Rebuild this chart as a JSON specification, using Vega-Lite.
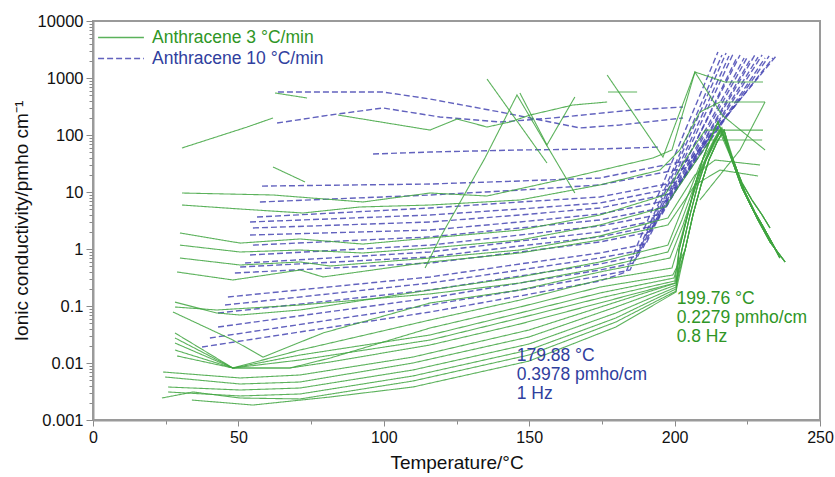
{
  "$schema": "https://vega.github.io/schema/vega-lite/v6.json",
  "width": 727,
  "height": 399,
  "autosize": {"type": "none"},
  "padding": {"left": 93, "top": 21, "right": 15, "bottom": 57},
  "background": "white",
  "config": {
    "font": "Liberation Sans",
    "view": {"stroke": "#9a9a9a", "strokeWidth": 2},
    "axis": {"grid": false, "domainColor": "#9a9a9a", "domainWidth": 2, "tickColor": "#8a8a8a", "labelColor": "#111", "titleColor": "#111", "labelFont": "Liberation Sans", "titleFont": "Liberation Sans", "titleFontWeight": "normal", "labelFlush": false, "labelOverlap": false}
  },
  "datasets": {
    "pts": [
      {"s":"B1","r":"10","t":37.5,"v":0.0191},{"s":"B1","r":"10","t":115.9,"v":0.0785},{"s":"B1","r":"10","t":146.8,"v":0.15},{"s":"B1","r":"10","t":174.3,"v":0.275},{"s":"B1","r":"10","t":183.3,"v":0.395},{"s":"B1","r":"10","t":214.9,"v":2858},
      {"s":"B2","r":"10","t":40.2,"v":0.0275},{"s":"B2","r":"10","t":115.9,"v":0.104},{"s":"B2","r":"10","t":146.8,"v":0.191},{"s":"B2","r":"10","t":174.3,"v":0.336},{"s":"B2","r":"10","t":184.7,"v":0.428},{"s":"B2","r":"10","t":216.3,"v":2535},
      {"s":"B3","r":"10","t":43.0,"v":0.0428},{"s":"B3","r":"10","t":115.9,"v":0.138},{"s":"B3","r":"10","t":146.8,"v":0.253},{"s":"B3","r":"10","t":174.3,"v":0.428},{"s":"B3","r":"10","t":186.0,"v":0.568},{"s":"B3","r":"10","t":217.7,"v":2745},
      {"s":"B4","r":"10","t":43.0,"v":0.0754},{"s":"B4","r":"10","t":115.9,"v":0.191},{"s":"B4","r":"10","t":146.8,"v":0.336},{"s":"B4","r":"10","t":174.3,"v":0.546},{"s":"B4","r":"10","t":187.4,"v":0.754},{"s":"B4","r":"10","t":218.7,"v":2432},
      {"s":"B5","r":"10","t":45.4,"v":0.104},{"s":"B5","r":"10","t":115.9,"v":0.253},{"s":"B5","r":"10","t":146.8,"v":0.428},{"s":"B5","r":"10","t":174.3,"v":0.695},{"s":"B5","r":"10","t":188.8,"v":0.96},{"s":"B5","r":"10","t":220.1,"v":2637},
      {"s":"B6","r":"10","t":46.4,"v":0.144},{"s":"B6","r":"10","t":115.9,"v":0.323},{"s":"B6","r":"10","t":146.8,"v":0.546},{"s":"B6","r":"10","t":174.3,"v":0.851},{"s":"B6","r":"10","t":190.1,"v":1.22},{"s":"B6","r":"10","t":221.5,"v":2335},
      {"s":"B7","r":"10","t":48.8,"v":0.379},{"s":"B7","r":"10","t":115.9,"v":0.568},{"s":"B7","r":"10","t":146.8,"v":0.886},{"s":"B7","r":"10","t":174.3,"v":1.33},{"s":"B7","r":"10","t":191.5,"v":1.99},{"s":"B7","r":"10","t":222.5,"v":2535},
      {"s":"B8","r":"10","t":50.6,"v":0.483},{"s":"B8","r":"10","t":115.9,"v":0.724},{"s":"B8","r":"10","t":146.8,"v":1.13},{"s":"B8","r":"10","t":174.3,"v":1.63},{"s":"B8","r":"10","t":192.9,"v":2.53},{"s":"B8","r":"10","t":223.9,"v":2244},
      {"s":"B9","r":"10","t":52.3,"v":0.568},{"s":"B9","r":"10","t":115.9,"v":0.886},{"s":"B9","r":"10","t":146.8,"v":1.38},{"s":"B9","r":"10","t":174.3,"v":1.99},{"s":"B9","r":"10","t":194.3,"v":3.23},{"s":"B9","r":"10","t":225.2,"v":2432},
      {"s":"B10","r":"10","t":54.0,"v":0.785},{"s":"B10","r":"10","t":115.9,"v":1.17},{"s":"B10","r":"10","t":146.8,"v":1.76},{"s":"B10","r":"10","t":174.3,"v":2.53},{"s":"B10","r":"10","t":195.7,"v":4.11},{"s":"B10","r":"10","t":226.3,"v":2244},
      {"s":"B11","r":"10","t":55.0,"v":1.17},{"s":"B11","r":"10","t":115.9,"v":1.63},{"s":"B11","r":"10","t":146.8,"v":2.34},{"s":"B11","r":"10","t":174.3,"v":3.23},{"s":"B11","r":"10","t":197.1,"v":5.46},{"s":"B11","r":"10","t":227.6,"v":2535},
      {"s":"B12","r":"10","t":54.0,"v":1.76},{"s":"B12","r":"10","t":115.9,"v":2.15},{"s":"B12","r":"10","t":146.8,"v":2.98},{"s":"B12","r":"10","t":174.3,"v":4.11},{"s":"B12","r":"10","t":198.4,"v":7.24},{"s":"B12","r":"10","t":228.7,"v":2335},
      {"s":"B13","r":"10","t":55.0,"v":2.34},{"s":"B13","r":"10","t":115.9,"v":2.98},{"s":"B13","r":"10","t":146.8,"v":3.95},{"s":"B13","r":"10","t":174.3,"v":5.24},{"s":"B13","r":"10","t":199.8,"v":9.6},{"s":"B13","r":"10","t":230.1,"v":2535},
      {"s":"B14","r":"10","t":54.0,"v":2.98},{"s":"B14","r":"10","t":115.9,"v":3.95},{"s":"B14","r":"10","t":146.8,"v":5.03},{"s":"B14","r":"10","t":174.3,"v":6.41},{"s":"B14","r":"10","t":201.2,"v":12.2},{"s":"B14","r":"10","t":231.1,"v":2244},
      {"s":"B15","r":"10","t":56.4,"v":3.64},{"s":"B15","r":"10","t":115.9,"v":5.24},{"s":"B15","r":"10","t":146.8,"v":6.68},{"s":"B15","r":"10","t":174.3,"v":8.17},{"s":"B15","r":"10","t":202.5,"v":15.6},{"s":"B15","r":"10","t":232.5,"v":2432},
      {"s":"B16","r":"10","t":57.4,"v":6.68},{"s":"B16","r":"10","t":115.9,"v":8.86},{"s":"B16","r":"10","t":146.8,"v":10.8},{"s":"B16","r":"10","t":174.3,"v":13.3},{"s":"B16","r":"10","t":203.9,"v":26.4},{"s":"B16","r":"10","t":233.8,"v":2244},
      {"s":"B17","r":"10","t":58.1,"v":12.7},{"s":"B17","r":"10","t":115.9,"v":13.8},{"s":"B17","r":"10","t":146.8,"v":15.6},{"s":"B17","r":"10","t":174.3,"v":17.6},{"s":"B17","r":"10","t":205.3,"v":36.4},{"s":"B17","r":"10","t":235.2,"v":2535},
      {"s":"B18","r":"10","t":96.3,"v":46.4},{"s":"B18","r":"10","t":115.9,"v":50.3},{"s":"B18","r":"10","t":146.8,"v":54.6},{"s":"B18","r":"10","t":174.3,"v":56.8},{"s":"B18","r":"10","t":195.0,"v":61.5},
      {"s":"B19","r":"10","t":63.3,"v":162},{"s":"B19","r":"10","t":81.5,"v":224},{"s":"B19","r":"10","t":99.7,"v":298},{"s":"B19","r":"10","t":119.3,"v":207},{"s":"B19","r":"10","t":140.0,"v":169},{"s":"B19","r":"10","t":158.2,"v":199},{"s":"B19","r":"10","t":185.7,"v":275},{"s":"B19","r":"10","t":202.9,"v":310},
      {"s":"B20","r":"10","t":63.6,"v":568},{"s":"B20","r":"10","t":99.7,"v":568},{"s":"B20","r":"10","t":115.9,"v":428},{"s":"B20","r":"10","t":140.0,"v":253},{"s":"B20","r":"10","t":167.5,"v":133},{"s":"B20","r":"10","t":181.2,"v":150},{"s":"B20","r":"10","t":202.9,"v":199},

      {"s":"GL1","r":"3","t":24.1,"v":0.00695},{"s":"GL1","r":"3","t":50.6,"v":0.00546},{"s":"GL1","r":"3","t":71.2,"v":0.00616},{"s":"GL1","r":"3","t":110.0,"v":0.0127},{"s":"GL1","r":"3","t":149.9,"v":0.0379},{"s":"GL1","r":"3","t":179.8,"v":0.117},{"s":"GL1","r":"3","t":200.5,"v":0.253},
      {"s":"GL1","r":"3","t":202.5,"v":0.96},{"s":"GL1","r":"3","t":205.3,"v":3.95},{"s":"GL1","r":"3","t":208.0,"v":13.3},{"s":"GL1","r":"3","t":210.8,"v":36.4},{"s":"GL1","r":"3","t":213.6,"v":75.4},{"s":"GL1","r":"3","t":216.0,"v":122},
      {"s":"GL1","r":"3","t":219.7,"v":36.4},{"s":"GL1","r":"3","t":223.2,"v":11.7},{"s":"GL1","r":"3","t":226.6,"v":5.24},{"s":"GL1","r":"3","t":230.1,"v":2.64},{"s":"GL1","r":"3","t":233.5,"v":1.27},{"s":"GL1","r":"3","t":236.2,"v":0.695},

      {"s":"GL2","r":"3","t":24.8,"v":0.00568},{"s":"GL2","r":"3","t":50.6,"v":0.00428},{"s":"GL2","r":"3","t":71.2,"v":0.00464},{"s":"GL2","r":"3","t":110.0,"v":0.01},{"s":"GL2","r":"3","t":149.9,"v":0.0286},{"s":"GL2","r":"3","t":179.8,"v":0.096},{"s":"GL2","r":"3","t":200.5,"v":0.234},
      {"s":"GL2","r":"3","t":203.6,"v":0.96},{"s":"GL2","r":"3","t":206.3,"v":3.95},{"s":"GL2","r":"3","t":209.1,"v":13.3},{"s":"GL2","r":"3","t":211.8,"v":36.4},{"s":"GL2","r":"3","t":214.6,"v":75.4},{"s":"GL2","r":"3","t":217.0,"v":122},
      {"s":"GL2","r":"3","t":220.8,"v":29.8},{"s":"GL2","r":"3","t":224.2,"v":9.6},{"s":"GL2","r":"3","t":228.3,"v":3.5},{"s":"GL2","r":"3","t":232.8,"v":1.33},{"s":"GL2","r":"3","t":238.0,"v":0.592},

      {"s":"GL3","r":"3","t":25.8,"v":0.00379},{"s":"GL3","r":"3","t":50.6,"v":0.00336},{"s":"GL3","r":"3","t":71.2,"v":0.00364},{"s":"GL3","r":"3","t":110.0,"v":0.00754},{"s":"GL3","r":"3","t":149.9,"v":0.0215},{"s":"GL3","r":"3","t":179.8,"v":0.0754},{"s":"GL3","r":"3","t":200.5,"v":0.215},
      {"s":"GL3","r":"3","t":201.5,"v":0.96},{"s":"GL3","r":"3","t":204.5,"v":3.95},{"s":"GL3","r":"3","t":207.0,"v":13.3},{"s":"GL3","r":"3","t":209.8,"v":39.5},{"s":"GL3","r":"3","t":212.5,"v":88.5},{"s":"GL3","r":"3","t":214.9,"v":169},
      {"s":"GL3","r":"3","t":219.7,"v":39.5},{"s":"GL3","r":"3","t":223.2,"v":14.4},{"s":"GL3","r":"3","t":226.6,"v":7.24},{"s":"GL3","r":"3","t":230.1,"v":3.95},{"s":"GL3","r":"3","t":232.8,"v":2.34},

      {"s":"GL4","r":"3","t":25.8,"v":0.0031},{"s":"GL4","r":"3","t":50.6,"v":0.00264},{"s":"GL4","r":"3","t":71.2,"v":0.00286},{"s":"GL4","r":"3","t":110.0,"v":0.00592},{"s":"GL4","r":"3","t":149.9,"v":0.0169},{"s":"GL4","r":"3","t":179.8,"v":0.0616},{"s":"GL4","r":"3","t":200.5,"v":0.199},
      {"s":"GL4","r":"3","t":202.5,"v":0.96},{"s":"GL4","r":"3","t":205.3,"v":3.95},{"s":"GL4","r":"3","t":208.0,"v":13.3},{"s":"GL4","r":"3","t":210.8,"v":36.4},{"s":"GL4","r":"3","t":213.6,"v":75.4},{"s":"GL4","r":"3","t":216.0,"v":122},
      {"s":"GL4","r":"3","t":220.1,"v":33.6},{"s":"GL4","r":"3","t":223.9,"v":10.8},{"s":"GL4","r":"3","t":227.6,"v":4.46},{"s":"GL4","r":"3","t":231.4,"v":1.99},{"s":"GL4","r":"3","t":234.9,"v":0.96},

      {"s":"GL5","r":"3","t":23.7,"v":0.00243},{"s":"GL5","r":"3","t":34.4,"v":0.0031},{"s":"GL5","r":"3","t":50.6,"v":0.00243},{"s":"GL5","r":"3","t":71.2,"v":0.00234},{"s":"GL5","r":"3","t":110.0,"v":0.00483},{"s":"GL5","r":"3","t":149.9,"v":0.0138},{"s":"GL5","r":"3","t":179.8,"v":0.0524},{"s":"GL5","r":"3","t":200.5,"v":0.183},
      {"s":"GL5","r":"3","t":203.6,"v":0.96},{"s":"GL5","r":"3","t":206.3,"v":3.95},{"s":"GL5","r":"3","t":209.1,"v":13.3},{"s":"GL5","r":"3","t":211.8,"v":36.4},{"s":"GL5","r":"3","t":214.6,"v":75.4},{"s":"GL5","r":"3","t":217.0,"v":122},
      {"s":"GL5","r":"3","t":219.7,"v":36.4},{"s":"GL5","r":"3","t":223.2,"v":11.7},{"s":"GL5","r":"3","t":226.6,"v":5.24},{"s":"GL5","r":"3","t":230.1,"v":2.64},{"s":"GL5","r":"3","t":233.5,"v":1.27},{"s":"GL5","r":"3","t":236.2,"v":0.695},

      {"s":"GL6","r":"3","t":34.0,"v":0.00224},{"s":"GL6","r":"3","t":55.0,"v":0.00183},{"s":"GL6","r":"3","t":81.5,"v":0.00253},{"s":"GL6","r":"3","t":110.0,"v":0.00379},{"s":"GL6","r":"3","t":149.9,"v":0.0108},{"s":"GL6","r":"3","t":179.8,"v":0.0428},{"s":"GL6","r":"3","t":200.5,"v":0.176},
      {"s":"GL6","r":"3","t":201.5,"v":0.96},{"s":"GL6","r":"3","t":204.5,"v":3.95},{"s":"GL6","r":"3","t":207.0,"v":13.3},{"s":"GL6","r":"3","t":209.8,"v":39.5},{"s":"GL6","r":"3","t":212.5,"v":88.5},{"s":"GL6","r":"3","t":214.9,"v":169},
      {"s":"GL6","r":"3","t":220.8,"v":29.8},{"s":"GL6","r":"3","t":224.2,"v":9.6},{"s":"GL6","r":"3","t":228.3,"v":3.5},{"s":"GL6","r":"3","t":232.8,"v":1.33},{"s":"GL6","r":"3","t":238.0,"v":0.592},

      {"s":"GD1","r":"3","t":28.2,"v":0.0336},{"s":"GD1","r":"3","t":48.1,"v":0.00817},{"s":"GD1","r":"3","t":71.2,"v":0.0169},{"s":"GD1","r":"3","t":115.9,"v":0.0568},{"s":"GD1","r":"3","t":146.8,"v":0.127},{"s":"GD1","r":"3","t":174.3,"v":0.286},{"s":"GD1","r":"3","t":199.1,"v":0.464},
      {"s":"GD1","r":"3","t":202.5,"v":1.76},{"s":"GD1","r":"3","t":205.3,"v":5.91},{"s":"GD1","r":"3","t":208.0,"v":16.3},{"s":"GD1","r":"3","t":210.8,"v":39.5},{"s":"GD1","r":"3","t":213.6,"v":81.7},{"s":"GD1","r":"3","t":216.0,"v":133},
      {"s":"GD1","r":"3","t":219.7,"v":39.5},{"s":"GD1","r":"3","t":223.2,"v":14.4},{"s":"GD1","r":"3","t":226.6,"v":7.24},{"s":"GD1","r":"3","t":230.1,"v":3.95},{"s":"GD1","r":"3","t":232.8,"v":2.34},

      {"s":"GD2","r":"3","t":28.2,"v":0.0275},{"s":"GD2","r":"3","t":48.1,"v":0.00817},{"s":"GD2","r":"3","t":67.7,"v":0.00817},{"s":"GD2","r":"3","t":81.5,"v":0.0122},{"s":"GD2","r":"3","t":115.9,"v":0.0411},{"s":"GD2","r":"3","t":146.8,"v":0.096},{"s":"GD2","r":"3","t":174.3,"v":0.215},{"s":"GD2","r":"3","t":199.4,"v":0.35},
      {"s":"GD2","r":"3","t":203.6,"v":0.96},{"s":"GD2","r":"3","t":206.3,"v":3.95},{"s":"GD2","r":"3","t":209.1,"v":13.3},{"s":"GD2","r":"3","t":211.8,"v":36.4},{"s":"GD2","r":"3","t":214.6,"v":75.4},{"s":"GD2","r":"3","t":217.0,"v":122},
      {"s":"GD2","r":"3","t":219.7,"v":36.4},{"s":"GD2","r":"3","t":223.2,"v":11.7},{"s":"GD2","r":"3","t":226.6,"v":5.24},{"s":"GD2","r":"3","t":230.1,"v":2.64},{"s":"GD2","r":"3","t":233.5,"v":1.27},{"s":"GD2","r":"3","t":236.2,"v":0.695},

      {"s":"GD3","r":"3","t":28.2,"v":0.0224},{"s":"GD3","r":"3","t":48.1,"v":0.00817},{"s":"GD3","r":"3","t":71.2,"v":0.0138},{"s":"GD3","r":"3","t":115.9,"v":0.031},{"s":"GD3","r":"3","t":146.8,"v":0.0754},{"s":"GD3","r":"3","t":174.3,"v":0.169},{"s":"GD3","r":"3","t":199.8,"v":0.31},
      {"s":"GD3","r":"3","t":202.5,"v":0.96},{"s":"GD3","r":"3","t":205.3,"v":3.95},{"s":"GD3","r":"3","t":208.0,"v":13.3},{"s":"GD3","r":"3","t":210.8,"v":36.4},{"s":"GD3","r":"3","t":213.6,"v":75.4},{"s":"GD3","r":"3","t":216.0,"v":122},
      {"s":"GD3","r":"3","t":220.8,"v":29.8},{"s":"GD3","r":"3","t":224.2,"v":9.6},{"s":"GD3","r":"3","t":228.3,"v":3.5},{"s":"GD3","r":"3","t":232.8,"v":1.33},{"s":"GD3","r":"3","t":238.0,"v":0.592},

      {"s":"GD4","r":"3","t":28.2,"v":0.0169},{"s":"GD4","r":"3","t":48.1,"v":0.00817},{"s":"GD4","r":"3","t":71.2,"v":0.0113},{"s":"GD4","r":"3","t":115.9,"v":0.0253},{"s":"GD4","r":"3","t":146.8,"v":0.0616},{"s":"GD4","r":"3","t":174.3,"v":0.138},{"s":"GD4","r":"3","t":200.1,"v":0.275},
      {"s":"GD4","r":"3","t":201.5,"v":0.96},{"s":"GD4","r":"3","t":204.5,"v":3.95},{"s":"GD4","r":"3","t":207.0,"v":13.3},{"s":"GD4","r":"3","t":209.8,"v":39.5},{"s":"GD4","r":"3","t":212.5,"v":88.5},{"s":"GD4","r":"3","t":214.9,"v":169},
      {"s":"GD4","r":"3","t":220.1,"v":33.6},{"s":"GD4","r":"3","t":223.9,"v":10.8},{"s":"GD4","r":"3","t":227.6,"v":4.46},{"s":"GD4","r":"3","t":231.4,"v":1.99},{"s":"GD4","r":"3","t":234.9,"v":0.96},

      {"s":"GD5","r":"3","t":28.9,"v":0.0133},{"s":"GD5","r":"3","t":48.1,"v":0.00817},{"s":"GD5","r":"3","t":67.7,"v":0.00817},{"s":"GD5","r":"3","t":81.5,"v":0.0104},{"s":"GD5","r":"3","t":115.9,"v":0.0207},{"s":"GD5","r":"3","t":146.8,"v":0.0483},{"s":"GD5","r":"3","t":174.3,"v":0.113},{"s":"GD5","r":"3","t":200.1,"v":0.253},
      {"s":"GD5","r":"3","t":203.6,"v":0.96},{"s":"GD5","r":"3","t":206.3,"v":3.95},{"s":"GD5","r":"3","t":209.1,"v":13.3},{"s":"GD5","r":"3","t":211.8,"v":36.4},{"s":"GD5","r":"3","t":214.6,"v":75.4},{"s":"GD5","r":"3","t":217.0,"v":122},
      {"s":"GD5","r":"3","t":219.7,"v":39.5},{"s":"GD5","r":"3","t":223.2,"v":14.4},{"s":"GD5","r":"3","t":226.6,"v":7.24},{"s":"GD5","r":"3","t":230.1,"v":3.95},{"s":"GD5","r":"3","t":232.8,"v":2.34},

      {"s":"GM1","r":"3","t":28.2,"v":0.117},{"s":"GM1","r":"3","t":42.6,"v":0.0754},{"s":"GM1","r":"3","t":50.6,"v":0.0695},{"s":"GM1","r":"3","t":71.2,"v":0.0851},{"s":"GM1","r":"3","t":115.9,"v":0.191},{"s":"GM1","r":"3","t":146.8,"v":0.323},{"s":"GM1","r":"3","t":174.3,"v":0.592},{"s":"GM1","r":"3","t":197.7,"v":1.17},
      {"s":"GM1","r":"3","t":201.8,"v":3.95},{"s":"GM1","r":"3","t":205.3,"v":10.8},{"s":"GM1","r":"3","t":208.7,"v":29.8},{"s":"GM1","r":"3","t":212.2,"v":61.5},{"s":"GM1","r":"3","t":215.3,"v":122},
      {"s":"GM1","r":"3","t":219.7,"v":36.4},{"s":"GM1","r":"3","t":223.2,"v":11.7},{"s":"GM1","r":"3","t":226.6,"v":5.24},{"s":"GM1","r":"3","t":230.1,"v":2.64},{"s":"GM1","r":"3","t":233.5,"v":1.27},{"s":"GM1","r":"3","t":236.2,"v":0.695},

      {"s":"GM2","r":"3","t":28.2,"v":0.096},{"s":"GM2","r":"3","t":42.6,"v":0.0851},{"s":"GM2","r":"3","t":71.2,"v":0.104},{"s":"GM2","r":"3","t":115.9,"v":0.163},{"s":"GM2","r":"3","t":146.8,"v":0.253},{"s":"GM2","r":"3","t":174.3,"v":0.464},{"s":"GM2","r":"3","t":197.7,"v":0.886},
      {"s":"GM2","r":"3","t":202.5,"v":3.23},{"s":"GM2","r":"3","t":206.0,"v":10},{"s":"GM2","r":"3","t":209.4,"v":28.6},{"s":"GM2","r":"3","t":212.9,"v":64.1},{"s":"GM2","r":"3","t":216.0,"v":122},
      {"s":"GM2","r":"3","t":220.8,"v":29.8},{"s":"GM2","r":"3","t":224.2,"v":9.6},{"s":"GM2","r":"3","t":228.3,"v":3.5},{"s":"GM2","r":"3","t":232.8,"v":1.33},{"s":"GM2","r":"3","t":238.0,"v":0.592},

      {"s":"GM3","r":"3","t":27.5,"v":0.0785},{"s":"GM3","r":"3","t":48.1,"v":0.0253},{"s":"GM3","r":"3","t":58.5,"v":0.0127},{"s":"GM3","r":"3","t":79.1,"v":0.0336},{"s":"GM3","r":"3","t":115.9,"v":0.113},{"s":"GM3","r":"3","t":146.8,"v":0.191},{"s":"GM3","r":"3","t":174.3,"v":0.395},{"s":"GM3","r":"3","t":198.4,"v":0.695},
      {"s":"GM3","r":"3","t":202.9,"v":2.64},{"s":"GM3","r":"3","t":206.3,"v":8.86},{"s":"GM3","r":"3","t":209.4,"v":26.4},{"s":"GM3","r":"3","t":213.2,"v":61.5},{"s":"GM3","r":"3","t":216.3,"v":133},
      {"s":"GM3","r":"3","t":220.1,"v":33.6},{"s":"GM3","r":"3","t":223.9,"v":10.8},{"s":"GM3","r":"3","t":227.6,"v":4.46},{"s":"GM3","r":"3","t":231.4,"v":1.99},{"s":"GM3","r":"3","t":234.9,"v":0.96},

      {"s":"GU1","r":"3","t":30.6,"v":9.6},{"s":"GU1","r":"3","t":61.9,"v":8.86},{"s":"GU1","r":"3","t":92.8,"v":6.68},{"s":"GU1","r":"3","t":115.9,"v":9.6},{"s":"GU1","r":"3","t":135.5,"v":8.51},{"s":"GU1","r":"3","t":160.6,"v":16.3},{"s":"GU1","r":"3","t":192.6,"v":39.5},{"s":"GU1","r":"3","t":199.1,"v":54.6},{"s":"GU1","r":"3","t":207.0,"v":1274},{"s":"GU1","r":"3","t":217.3,"v":851},{"s":"GU1","r":"3","t":230.4,"v":851},
      {"s":"GU2","r":"3","t":30.6,"v":5.91},{"s":"GU2","r":"3","t":50.6,"v":5.03},{"s":"GU2","r":"3","t":72.2,"v":4.28},{"s":"GU2","r":"3","t":91.8,"v":5.46},{"s":"GU2","r":"3","t":115.9,"v":5.91},{"s":"GU2","r":"3","t":146.8,"v":7.24},{"s":"GU2","r":"3","t":174.3,"v":13.3},{"s":"GU2","r":"3","t":195.0,"v":24.3},{"s":"GU2","r":"3","t":201.8,"v":54.6},{"s":"GU2","r":"3","t":208.7,"v":253},{"s":"GU2","r":"3","t":215.6,"v":379},{"s":"GU2","r":"3","t":231.1,"v":379},
      {"s":"GU3","r":"3","t":29.9,"v":1.91},{"s":"GU3","r":"3","t":50.6,"v":1.27},{"s":"GU3","r":"3","t":71.2,"v":1.5},{"s":"GU3","r":"3","t":92.8,"v":1.22},{"s":"GU3","r":"3","t":115.9,"v":1.56},{"s":"GU3","r":"3","t":146.8,"v":2.15},{"s":"GU3","r":"3","t":174.3,"v":3.95},{"s":"GU3","r":"3","t":196.7,"v":8.86},{"s":"GU3","r":"3","t":203.6,"v":36.4},{"s":"GU3","r":"3","t":210.5,"v":122},{"s":"GU3","r":"3","t":218.0,"v":122},{"s":"GU3","r":"3","t":230.4,"v":122},
      {"s":"GU4","r":"3","t":29.9,"v":1.17},{"s":"GU4","r":"3","t":50.6,"v":0.886},{"s":"GU4","r":"3","t":71.2,"v":0.96},{"s":"GU4","r":"3","t":92.8,"v":0.851},{"s":"GU4","r":"3","t":115.9,"v":1.04},{"s":"GU4","r":"3","t":146.8,"v":1.44},{"s":"GU4","r":"3","t":174.3,"v":2.64},{"s":"GU4","r":"3","t":196.7,"v":5.46},{"s":"GU4","r":"3","t":205.3,"v":24.3},{"s":"GU4","r":"3","t":212.2,"v":81.7},{"s":"GU4","r":"3","t":218.0,"v":81.7},{"s":"GU4","r":"3","t":230.1,"v":81.7},
      {"s":"GU5","r":"3","t":29.9,"v":0.695},{"s":"GU5","r":"3","t":50.6,"v":0.524},{"s":"GU5","r":"3","t":71.2,"v":0.592},{"s":"GU5","r":"3","t":81.5,"v":0.503},{"s":"GU5","r":"3","t":115.9,"v":0.695},{"s":"GU5","r":"3","t":146.8,"v":0.96},{"s":"GU5","r":"3","t":174.3,"v":1.69},{"s":"GU5","r":"3","t":197.7,"v":3.5},{"s":"GU5","r":"3","t":207.0,"v":19.9},{"s":"GU5","r":"3","t":213.9,"v":36.4},{"s":"GU5","r":"3","t":229.4,"v":29.8},
      {"s":"GU6","r":"3","t":28.9,"v":0.395},{"s":"GU6","r":"3","t":48.1,"v":0.286},{"s":"GU6","r":"3","t":71.2,"v":0.428},{"s":"GU6","r":"3","t":79.1,"v":0.323},{"s":"GU6","r":"3","t":115.9,"v":0.592},{"s":"GU6","r":"3","t":146.8,"v":0.851},{"s":"GU6","r":"3","t":174.3,"v":1.44},{"s":"GU6","r":"3","t":197.7,"v":2.64},{"s":"GU6","r":"3","t":207.0,"v":13.3},{"s":"GU6","r":"3","t":215.6,"v":24.3},{"s":"GU6","r":"3","t":228.7,"v":19.1},

      {"s":"GE1","r":"3","t":30.6,"v":59.2},{"s":"GE1","r":"3","t":53.0,"v":138},{"s":"GE1","r":"3","t":61.9,"v":199},
      {"s":"GE2","r":"3","t":62.6,"v":546},{"s":"GE2","r":"3","t":73.6,"v":446},
      {"s":"GE3","r":"3","t":61.9,"v":27.5},{"s":"GE3","r":"3","t":72.9,"v":15},
      {"s":"GE4","r":"3","t":84.3,"v":224},{"s":"GE4","r":"3","t":115.9,"v":122},{"s":"GE4","r":"3","t":125.2,"v":191},{"s":"GE4","r":"3","t":135.5,"v":138},{"s":"GE4","r":"3","t":143.4,"v":169},{"s":"GE4","r":"3","t":150.3,"v":224},{"s":"GE4","r":"3","t":165.1,"v":336},{"s":"GE4","r":"3","t":176.8,"v":379},
      {"s":"GE5","r":"3","t":135.5,"v":960},{"s":"GE5","r":"3","t":156.1,"v":32.3},
      {"s":"GE6","r":"3","t":114.2,"v":0.464},{"s":"GE6","r":"3","t":119.3,"v":1.56},{"s":"GE6","r":"3","t":134.8,"v":39.5},{"s":"GE6","r":"3","t":145.8,"v":503},{"s":"GE6","r":"3","t":165.7,"v":9.6},
      {"s":"GE7","r":"3","t":146.8,"v":546},{"s":"GE7","r":"3","t":156.1,"v":66.8},{"s":"GE7","r":"3","t":165.7,"v":464},
      {"s":"GE10","r":"3","t":176.8,"v":1130},{"s":"GE10","r":"3","t":196.0,"v":41.1},{"s":"GE10","r":"3","t":207.0,"v":1274},{"s":"GE10","r":"3","t":216.3,"v":224},{"s":"GE10","r":"3","t":231.1,"v":54.6},
      {"s":"GE11","r":"3","t":177.1,"v":568},{"s":"GE11","r":"3","t":187.1,"v":568},
      {"s":"GE12","r":"3","t":208.7,"v":7.24},{"s":"GE12","r":"3","t":222.5,"v":54.6},{"s":"GE12","r":"3","t":231.1,"v":379}
    ]
  },
  "layer": [
    {
      "data": {"name": "pts"},
      "transform": [{"filter": "datum.r == '10'"}],
      "mark": {"type": "line", "strokeWidth": 1.4, "opacity": 0.85},
      "encoding": {
        "x": {"field": "t", "type": "quantitative", "scale": {"domain": [0, 250], "nice": false},
          "axis": {"title": "Temperature/°C", "titleFontSize": 19, "titlePadding": 8, "labelFontSize": 16, "labelPadding": 3,
            "values": [0,12.5,25,37.5,50,62.5,75,87.5,100,112.5,125,137.5,150,162.5,175,187.5,200,212.5,225,237.5,250],
            "labelExpr": "datum.value % 50 === 0 ? datum.label : ''",
            "tickSize": {"condition": {"test": "datum.value % 50 === 0", "value": 6}, "value": 4}}},
        "y": {"field": "v", "type": "quantitative", "scale": {"type": "log", "domain": [0.001, 10000], "nice": false},
          "axis": {"title": "Ionic conductivity/pmho cm⁻¹", "titleFontSize": 19, "titlePadding": 6, "labelFontSize": 16.5, "labelPadding": 3, "format": "~g",
            "values": [0.001,0.002,0.003,0.004,0.005,0.006,0.007,0.008,0.009,0.01,0.02,0.03,0.04,0.05,0.06,0.07,0.08,0.09,0.1,0.2,0.3,0.4,0.5,0.6,0.7,0.8,0.9,1,2,3,4,5,6,7,8,9,10,20,30,40,50,60,70,80,90,100,200,300,400,500,600,700,800,900,1000,2000,3000,4000,5000,6000,7000,8000,9000,10000],
            "labelExpr": "indexof(['0.001','0.01','0.1','1','10','100','1000','10000'], datum.label) >= 0 ? datum.label : ''",
            "tickSize": {"condition": {"test": "indexof([0.001,0.01,0.1,1,10,100,1000,10000], datum.value) >= 0", "value": 7}, "value": 4}}},
        "color": {"field": "r", "type": "nominal", "scale": {"domain": ["3", "10"], "range": ["#3fa53f", "#4747b3"]},
          "legend": {"title": null, "orient": "none", "legendX": 4, "legendY": 6, "padding": 0, "symbolType": "stroke", "symbolSize": 2100, "symbolStrokeWidth": 1.3, "symbolOpacity": 0.55, "labelFontSize": 17.5, "labelFont": "Liberation Sans", "labelOffset": 7, "labelLimit": 400, "clipHeight": 21, "rowPadding": 0,
            "labelExpr": "'Anthracene ' + datum.label + ' °C/min'",
            "labelColor": {"expr": "datum.value == '3' ? '#2f9626' : '#30409e'"}}},
        "strokeDash": {"field": "r", "type": "nominal", "scale": {"domain": ["3", "10"], "range": [[1, 0], [6, 3]]}},
        "detail": {"field": "s"}
      }
    },
    {
      "data": {"name": "pts"},
      "transform": [{"filter": "datum.r == '3'"}],
      "mark": {"type": "line", "strokeWidth": 1.1, "opacity": 0.85},
      "encoding": {
        "x": {"field": "t", "type": "quantitative"},
        "y": {"field": "v", "type": "quantitative"},
        "color": {"field": "r", "type": "nominal"},
        "strokeDash": {"field": "r", "type": "nominal"},
        "detail": {"field": "s"}
      }
    },
    {
      "data": {"values": [{"t": 145.7, "v": 0.0193, "txt": "179.88 °C\n0.3978 pmho/cm\n1 Hz"}]},
      "mark": {"type": "text", "align": "left", "baseline": "top", "fontSize": 17.5, "lineHeight": 19, "lineBreak": "\n", "color": "#30409e", "font": "Liberation Sans"},
      "encoding": {"x": {"field": "t", "type": "quantitative"}, "y": {"field": "v", "type": "quantitative"}, "text": {"field": "txt"}}
    },
    {
      "data": {"values": [{"t": 200.7, "v": 0.188, "txt": "199.76 °C\n0.2279 pmho/cm\n0.8 Hz"}]},
      "mark": {"type": "text", "align": "left", "baseline": "top", "fontSize": 17.5, "lineHeight": 19, "lineBreak": "\n", "color": "#2f9626", "font": "Liberation Sans"},
      "encoding": {"x": {"field": "t", "type": "quantitative"}, "y": {"field": "v", "type": "quantitative"}, "text": {"field": "txt"}}
    }
  ]
}
